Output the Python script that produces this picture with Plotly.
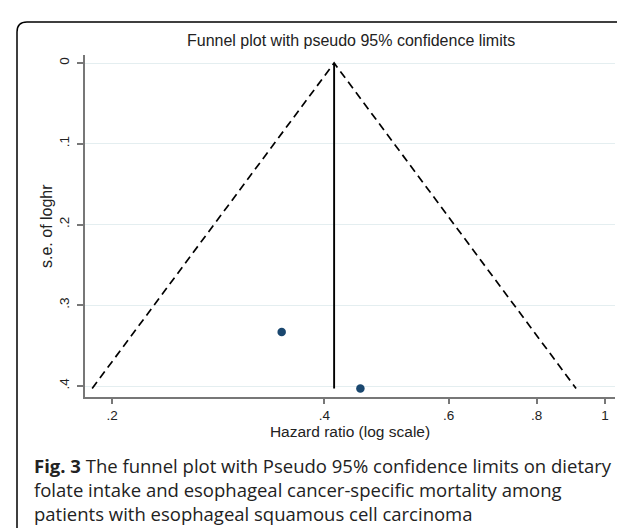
import numpy as np
import plotly.graph_objects as go

# ---- data ----
study_hr = [0.348, 0.450]          # hazard ratios of the two studies
study_se = [0.333, 0.403]          # s.e. of log hazard ratio
pooled_hr = 0.413                  # pooled estimate (vertical line)
z95 = 1.96
x_tickvals = [0.2, 0.4, 0.6, 0.8, 1.0]
x_ticktext = [".2", ".4", ".6", ".8", "1"]
y_tickvals = [0, 0.1, 0.2, 0.3, 0.4]
y_ticktext = ["0", ".1", ".2", ".3", ".4"]
title_text = "Funnel plot with pseudo 95% confidence limits"
x_title = "Hazard ratio (log scale)"
y_title = "s.e. of loghr"
caption_lines = ["<b>Fig. 3</b> The funnel plot with Pseudo 95% confidence limits on dietary",
                 "folate intake and esophageal cancer-specific mortality among",
                 "patients with esophageal squamous cell carcinoma"]

# ---- layout geometry (pixels) ----
W, H = 625, 528
L, R, T, B = 77, 607, 47, 389

se_max = max(study_se)
theta = np.log(pooled_hr)
se_line = np.array([se_max, 0.0, se_max])
funnel_x = np.exp(theta + z95 * se_line * np.array([-1, 0, 1]))

fig = go.Figure()
fig.add_trace(go.Scatter(x=list(funnel_x), y=list(se_line), mode="lines",
                         line=dict(color="black", width=1.7, dash="8px,5px"),
                         hoverinfo="skip", showlegend=False))
fig.add_trace(go.Scatter(x=[pooled_hr, pooled_hr], y=[0, se_max], mode="lines",
                         line=dict(color="black", width=1.9),
                         hoverinfo="skip", showlegend=False))
fig.add_trace(go.Scatter(x=study_hr, y=study_se, mode="markers",
                         marker=dict(color="#1a476f", size=8.5),
                         showlegend=False))

def px_x(p):
    return (p - L) / (R - L)

def px_y(p):
    return (B - p) / (B - T)

# rounded outer frame (cut off at right and bottom)
x0, y0, x1, y1, rr = 9, 14, 640, 545, 10
path = (f"M {px_x(x0)},{px_y(y1)} L {px_x(x0)},{px_y(y0+rr)} "
        f"Q {px_x(x0)},{px_y(y0)} {px_x(x0+rr)},{px_y(y0)} "
        f"L {px_x(x1)},{px_y(y0)}")
fig.add_shape(type="path", path=path, xref="paper", yref="paper",
              line=dict(color="black", width=1.5), layer="above")

fig.add_annotation(text=title_text, xref="paper", yref="paper",
                   x=px_x(343), y=px_y(33), showarrow=False,
                   font=dict(family="Liberation Sans", size=16, color="#222"),
                   xanchor="center", yanchor="middle")
fig.add_annotation(text="<br>".join(caption_lines), xref="paper", yref="paper",
                   x=px_x(24), y=px_y(481), showarrow=False, align="left",
                   font=dict(family="Open Sans", size=18.5, color="#222"),
                   xanchor="left", yanchor="middle")

tick_font = dict(family="Liberation Sans", size=13.5, color="#222")
title_font = dict(family="Liberation Sans", size=15.5, color="#222")
fig.add_annotation(text=y_title, xref="paper", yref="paper",
                   x=px_x(38), y=px_y(218), showarrow=False, textangle=-90,
                   font=dict(family="Liberation Sans", size=16, color="#222"),
                   xanchor="center", yanchor="middle")

xr = [np.log10(0.2) + (L - 104) / 493 * np.log10(5),
      np.log10(0.2) + (R - 104) / 493 * np.log10(5)]
fig.update_xaxes(type="log", range=xr, tickvals=x_tickvals, ticktext=x_ticktext,
                 showgrid=False, zeroline=False, showline=True,
                 linecolor="#777", linewidth=1.5, ticks="outside", ticklen=5,
                 tickcolor="#777", tickwidth=1.5, tickfont=tick_font,
                 title=dict(text=x_title, font=title_font, standoff=2))
fig.update_yaxes(range=[(B - 55) / 807.5, (T - 55) / 807.5],
                 tickvals=y_tickvals, ticktext=y_ticktext, tickangle=-90,
                 ticklabelstandoff=3,
                 showgrid=True, gridcolor="#e4eef0", gridwidth=1,
                 zeroline=False, showline=True,
                 linecolor="#777", linewidth=1.5, ticks="outside", ticklen=6,
                 tickcolor="#777", tickwidth=1.5, tickfont=tick_font)
fig.update_layout(width=W, height=H, margin=dict(l=L, r=W - R, t=T, b=H - B),
                  paper_bgcolor="white", plot_bgcolor="white")
fig.write_html("out.html")
